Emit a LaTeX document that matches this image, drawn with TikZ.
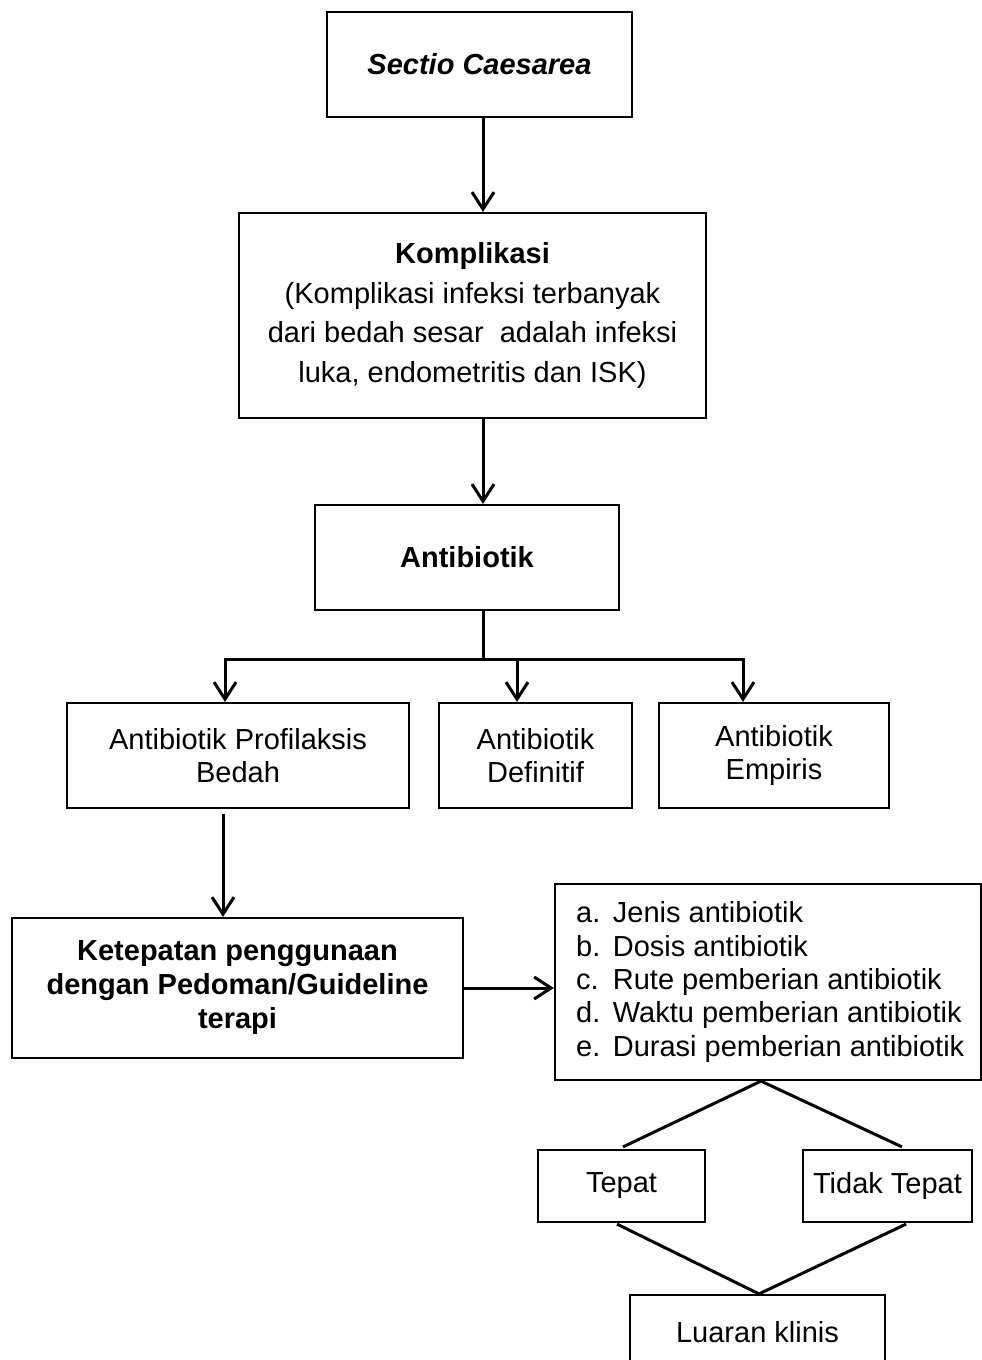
\documentclass[tikz,border=0pt]{standalone}
\usepackage{fontspec}
\setmainfont{Liberation Sans}
\usetikzlibrary{arrows.meta,calc}
\begin{document}
\begin{tikzpicture}[x=1pt,y=-1pt,
  box/.style={draw,line width=2.2pt,inner sep=0pt,align=center,font=\fontsize{29}{33}\selectfont},
  conn/.style={line width=3pt},
  arr/.style={conn,-{Straight Barb[length=17pt,width=22pt]}},
]
\fill[white] (0,0) rectangle (982,1360);
\useasboundingbox (0,0) rectangle (982,1360);

% boxes
\node[box,minimum width=305pt,minimum height=105pt,font=\fontsize{29}{33}\selectfont\bfseries\itshape] (sc) at (479.5,64.5) {Sectio Caesarea};
\node[box,minimum width=467pt,minimum height=205pt,font=\fontsize{29}{39.5}\selectfont] (komp) at (472.5,315.5)
  {\textbf{Komplikasi}\\(Komplikasi infeksi terbanyak\\dari bedah sesar\ \ adalah infeksi\\luka, endometritis dan ISK)};
\node[box,minimum width=304pt,minimum height=105pt,font=\fontsize{29}{33}\selectfont\bfseries] (anti) at (467,557.5) {Antibiotik};
\node[box,minimum width=342pt,minimum height=105pt] (prof) at (238,755.5) {Antibiotik Profilaksis\\Bedah};
\node[box,minimum width=193pt,minimum height=105pt] (def) at (535.5,755.5) {Antibiotik\\Definitif};
\node[box,minimum width=230pt,minimum height=105pt] (emp) at (774,755.5) {Antibiotik\\Empiris};
\node[box,minimum width=451pt,minimum height=140pt,font=\fontsize{29}{34}\selectfont\bfseries] (ket) at (237.5,988)
  {Ketepatan penggunaan\\dengan Pedoman/Guideline\\terapi};
\node[box,minimum width=426pt,minimum height=196pt] (list) at (768,982) {};
\node[anchor=west,inner sep=0pt,align=left,font=\fontsize{29}{33.3}\selectfont] (listtext) at (576,982)
  {\makebox[36.7pt][l]{a.}Jenis antibiotik\\
   \makebox[36.7pt][l]{b.}Dosis antibiotik\\
   \makebox[36.7pt][l]{c.}Rute pemberian antibiotik\\
   \makebox[36.7pt][l]{d.}Waktu pemberian antibiotik\\
   \makebox[36.7pt][l]{e.}Durasi pemberian antibiotik};
\node[box,minimum width=167pt,minimum height=72pt] (tepat) at (621.5,1186) {Tepat};
\node[box,minimum width=169pt,minimum height=72pt] (tidak) at (887.5,1186) {Tidak Tepat};
\node[box,minimum width=255pt,minimum height=74pt] (luaran) at (757.5,1332) {Luaran klinis};

% helper coordinates
\coordinate (spine) at (483,0);
\coordinate (j) at (483,659);
\coordinate (a1) at (225,0);
\coordinate (a2) at (517,0);
\coordinate (a3) at (743,0);
\coordinate (a1b) at (223,0);
\coordinate (lbx) at (761,0);
\coordinate (lbx2) at (759,0);
\coordinate (t1) at (623,0);
\coordinate (t2) at (902,0);
\coordinate (t3) at (617,0);
\coordinate (t4) at (906,0);

% connectors
\draw[arr] (sc.south -| spine) -- (komp.north -| spine);
\draw[arr] (komp.south -| spine) -- (anti.north -| spine);
\draw[conn] (anti.south -| spine) -- (j);
\draw[arr] (j) -| (prof.north -| a1);
\draw[arr] (j) -| (emp.north -| a3);
\draw[arr] (j -| a2) -- (def.north -| a2);
\draw[arr] ($(prof.south -| a1b)+(0,5)$) -- (ket.north -| a1b);
\draw[arr] (ket.east) -- (ket.east -| list.west);
\draw[conn] (list.south -| lbx) -- ($(tepat.north -| t1)+(0,-2)$);
\draw[conn] (list.south -| lbx) -- ($(tidak.north -| t2)+(0,-2)$);
\draw[conn] ($(tepat.south -| t3)+(0,1)$) -- (luaran.north -| lbx2);
\draw[conn] ($(tidak.south -| t4)+(0,1)$) -- (luaran.north -| lbx2);
\end{tikzpicture}
\end{document}
